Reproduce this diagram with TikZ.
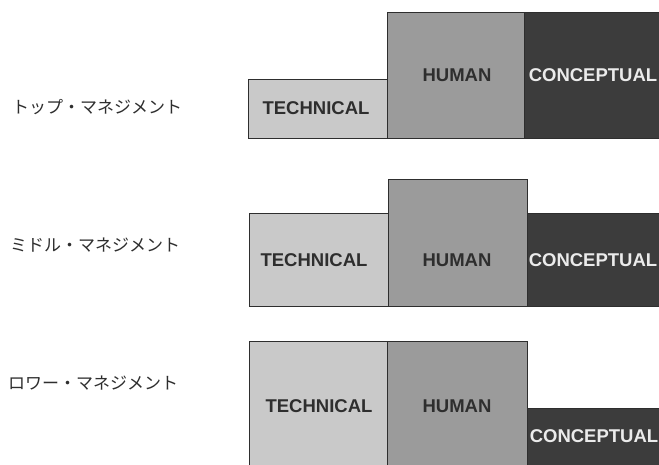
\documentclass[tikz,border=0pt]{standalone}
\usepackage{fontspec}
\setmainfont{Liberation Sans}
\newfontfamily\jpfont{Noto Sans CJK JP}
\definecolor{techc}{HTML}{C9C9C9}
\definecolor{humc}{HTML}{9B9B9B}
\definecolor{conc}{HTML}{3C3C3C}
\definecolor{inkc}{HTML}{2E2E2E}
\tikzset{
  bar/.style={draw=inkc, line width=0.8pt, inner sep=0pt},
  lbl/.style={font=\fontsize{18.5}{20}\selectfont\bfseries, inner sep=0pt},
  darklbl/.style={lbl, text=inkc},
  lightlbl/.style={lbl, text=white!92!black},
  level/.style={font=\jpfont\fontsize{17}{19}\selectfont, text=inkc, anchor=west, inner sep=0pt}
}
\begin{document}
\begin{tikzpicture}[x=1pt,y=-1pt]
\useasboundingbox (0,0) rectangle (659,464);
\clip (0,0) rectangle (659,464);
% row 1 : top management
\draw[bar, fill=techc] (248,79) rectangle (387,138);
\draw[bar, fill=humc] (387,12) rectangle (524,138);
\draw[bar, fill=conc] (524,12) rectangle (670,138);
\node[darklbl] (t1) at (316,108) {TECHNICAL};
\node[darklbl] (h1) at (457,75) {HUMAN};
\node[lightlbl] (c1) at (593,75) {CONCEPTUAL};
\node[level] (l1) at (12,107) {トップ・マネジメント};
% row 2 : middle management
\draw[bar, fill=techc] (249,213) rectangle (388,306);
\draw[bar, fill=humc] (388,179) rectangle (527,306);
\draw[bar, fill=conc] (527,213) rectangle (670,306);
\node[darklbl] (t2) at (314,260) {TECHNICAL};
\node[darklbl] (h2) at (457,260) {HUMAN};
\node[lightlbl] (c2) at (593,260) {CONCEPTUAL};
\node[level] (l2) at (10,245) {ミドル・マネジメント};
% row 3 : lower management
\draw[bar, fill=techc] (249,341) rectangle (387,470);
\draw[bar, fill=humc] (387,341) rectangle (527,470);
\draw[bar, fill=conc] (527,408) rectangle (670,470);
\node[darklbl] (t3) at (319,406) {TECHNICAL};
\node[darklbl] (h3) at (457,406) {HUMAN};
\node[lightlbl] (c3) at (594,436) {CONCEPTUAL};
\node[level] (l3) at (8,383) {ロワー・マネジメント};
\end{tikzpicture}
\end{document}
